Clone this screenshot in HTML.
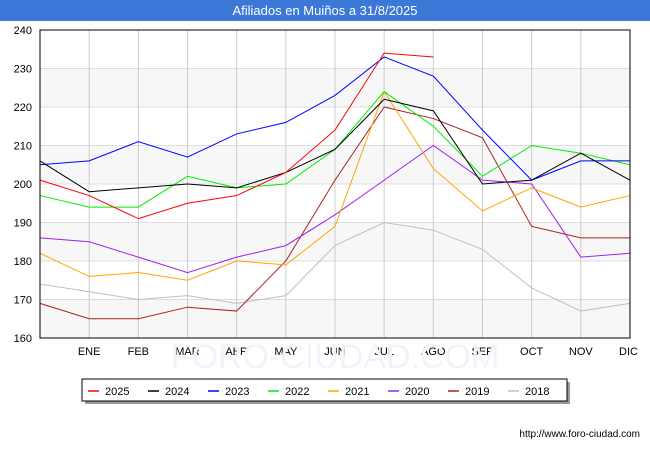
<!DOCTYPE html>
<html><head><meta charset="utf-8"><style>
body{margin:0;width:650px;height:450px;background:#fff;font-family:"Liberation Sans",sans-serif;overflow:hidden}
</style></head><body>
<svg width="650" height="450" xmlns="http://www.w3.org/2000/svg" font-family="Liberation Sans, sans-serif">
<rect x="0" y="0" width="650" height="21" fill="#3b78d8"/>
<text x="325" y="15" text-anchor="middle" fill="#fff" font-size="13">Afiliados en Muiños a 31/8/2025</text>
<g id="bands"></g><g id="grid"></g><g id="yticks"></g><g id="xticks"></g>
<text x="335" y="368" text-anchor="middle" font-size="34" fill="#f1f3fb">FORO-CIUDAD.COM</text>
<g id="series"></g>
<rect x="40" y="30" width="590" height="308" fill="none" stroke="#000" stroke-width="1"/>
<rect x="85" y="382" width="485" height="22" fill="#999"/>
<rect x="82" y="379" width="485" height="22" fill="#fff" stroke="#000"/>
<g id="legend"></g>
<text x="640" y="437" text-anchor="end" font-size="10" fill="#000">http://www.foro-ciudad.com</text>
</svg>
<script>
const months=["","ENE","FEB","MAR","ABR","MAY","JUN","JUL","AGO","SEP","OCT","NOV","DIC"];
const yTicks=[160,170,180,190,200,210,220,230,240];
const years=["2025","2024","2023","2022","2021","2020","2019","2018"];
const colors=["#ff0000","#000000","#0000ff","#00ee00","#ffa500","#a020f0","#aa2222","#c0c0c0"];
const s2025=[201,197,191,195,197,203,214,234,233];
const s2024=[206,198,199,200,199,203,209,222,219,200,201,208,201];
const s2023=[205,206,211,207,213,216,223,233,228,214,201,206,206];
const s2022=[197,194,194,202,199,200,209,224,215,202,210,208,205];
const s2021=[182,176,177,175,180,179,189,224,204,193,199,194,197];
const s2020=[186,185,181,177,181,184,192,201,210,201,200,181,182];
const s2019=[169,165,165,168,167,180,201,220,217,212,189,186,186];
const s2018=[174,172,170,171,169,171,184,190,188,183,173,167,169];
const series=[s2025,s2024,s2023,s2022,s2021,s2020,s2019,s2018];
const NS="http://www.w3.org/2000/svg";
const X=i=>40+i*(590/12), Y=v=>338-(v-160)*308/80;
function mk(t,a,p){const e=document.createElementNS(NS,t);for(const k in a)e.setAttribute(k,a[k]);document.getElementById(p).appendChild(e);return e;}
for(let i=0;i<yTicks.length-1;i++){if(i%2===0){const r=mk("rect",{x:40,y:Y(yTicks[i+1]),width:590,height:Y(yTicks[i])-Y(yTicks[i+1]),fill:"#f7f7f7"},"bands");

}}
yTicks.forEach(v=>{const l=mk("line",{x1:40,x2:630,y1:Y(v),y2:Y(v),stroke:"#ddd"},"grid");


const t=mk("text",{x:32,y:Y(v)+4,"text-anchor":"end","font-size":"11"},"yticks");t.textContent=v;

});
months.forEach((m,i)=>{if(!i)return;const l=mk("line",{x1:X(i),x2:X(i),y1:30,y2:338,stroke:"#ccc"},"grid");


const t=mk("text",{x:X(i),y:355,"text-anchor":i===12?"end":"middle","font-size":"11"},"xticks");t.textContent=m;if(i===12)t.setAttribute("x",X(i)+8);

});
for(let k=series.length-1;k>=0;k--){const p=mk("polyline",{points:series[k].map((v,i)=>X(i)+","+Y(v)).join(" "),fill:"none",stroke:colors[k],"stroke-width":1},"series");

}
years.forEach((y,k)=>{const x=88+k*60;const l=mk("line",{x1:x,x2:x+11,y1:391,y2:391,stroke:colors[k],"stroke-width":1.5},"legend");


const t=mk("text",{x:x+17,y:395,"font-size":"11"},"legend");t.textContent=y;

});
</script>
</body></html>
